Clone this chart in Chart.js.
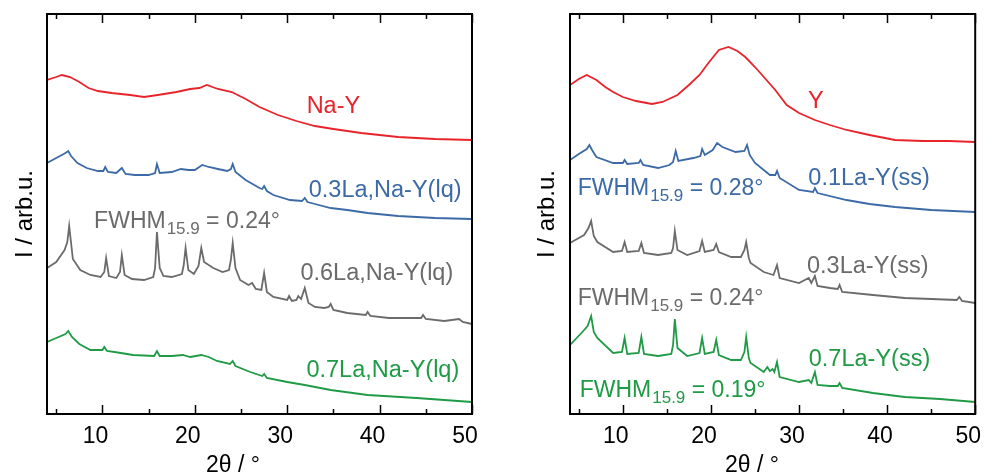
<!DOCTYPE html>
<html>
<head>
<meta charset="utf-8">
<script src="https://cdn.jsdelivr.net/npm/chart.js@4.4.1/dist/chart.umd.min.js"></script>
<style>
  html, body { margin: 0; padding: 0; background: #fff; overflow: hidden; }
  .panel { position: absolute; top: 0; height: 473px; }
  #leftWrap  { left: 0;     width: 500px; }
  #rightWrap { left: 500px; width: 497px; }
</style>
</head>
<body>
<div id="leftWrap" class="panel"><canvas id="leftChart" width="500" height="473"></canvas></div>
<div id="rightWrap" class="panel"><canvas id="rightChart" width="497" height="473"></canvas></div>
<script>
// ─── Data (2θ in °, intensity in arb. u., curves stacked with offsets) ───────
const xTicks     = [10, 20, 30, 40, 50];
const minorTicks = [5, 15, 25, 35, 45];

// left panel: liquid-state exchange
const naY = [[4,334],[5,337],[5.6,339],[6.5,337],[7.5,332],[8.5,326],[9.5,323],[11,321],[13,319],[14.5,317],[16,319],[18,322],[19.5,325],[20.5,326],[21.3,329],[22.5,325],[24,322],[25.5,315],[27,307],[29,299],[31,293],[33,288],[35,285],[38,281],[42,277],[46,275],[50,274]];
const la03lq = [[4,251],[5,256],[6,261],[6.3,263],[6.6,258],[7.3,251],[8.3,246],[9.5,243],[10.1,243],[10.3,247],[10.6,242],[11.5,241],[12.1,246],[12.5,240],[13.5,239],[15,239],[15.7,241],[15.9,250],[16.2,241],[17.5,242],[18.5,245],[19.3,244],[20,244],[20.8,249],[21.5,247],[22.5,245],[23.5,243],[23.9,245],[24.1,250],[24.4,242],[25.5,234],[27,226],[27.3,225],[27.5,228],[27.8,223],[28.5,219],[30.3,214],[31.6,213],[31.9,216],[32.2,212],[33,210],[34.7,206],[36.5,204],[38.7,201],[42,198],[46,196],[50,195]];
const la06lq = [[4,146],[5,152],[5.9,164],[6.2,172],[6.4,188],[6.8,155],[7.6,144],[8.7,139],[9.8,137],[10.2,142],[10.4,156],[10.7,138],[11.5,136],[11.9,142],[12.1,159],[12.4,139],[13.2,135],[14.5,134],[15.5,137],[15.7,146],[15.9,182],[16.2,146],[16.6,138],[17.5,137],[18.6,140],[18.8,149],[19,166],[19.3,144],[19.9,140],[20.4,148],[20.7,166],[21,152],[22,146],[23,142],[23.7,144],[23.9,154],[24.1,171],[24.4,146],[24.9,134],[25.8,129],[26.2,131],[26.6,125],[27.2,124],[27.5,141],[27.8,122],[28.5,117],[30,114],[30.2,118],[30.5,113],[31,114],[31.2,118],[31.5,115],[31.9,126],[32.3,111],[33,107],[34,106],[34.5,107],[34.7,110],[35,104],[36.5,101],[38.5,99],[38.7,102],[39,98],[41,96],[44.5,96],[44.7,99],[45,95],[47,93],[48.6,95],[49,92],[50,90]];
const la07lq = [[4,72],[5,76],[6,80],[6.3,83],[6.7,77],[7.5,70],[8.7,64],[10,64],[10.2,67],[10.5,63],[12,61],[13.3,59],[15.6,58],[15.9,63],[16.2,58],[17.5,58],[18.7,59],[19.5,57],[20.7,59],[21.5,57],[22.4,53],[23.8,50],[24.1,53],[24.4,48],[26,42],[27.3,38],[27.5,40],[27.8,36],[30,32],[31.9,29],[34.7,24],[38.7,19],[44,16],[50,12]];

// right panel: solid-state exchange
const hY = [[4,329],[5,335],[5.9,339],[7,334],[8,327],[8.9,322],[10,317],[11.5,313],[13.3,310],[14.5,312],[16.2,319],[17.5,329],[18.7,339],[19.8,352],[20.9,364],[22,367],[23,363],[23.9,357],[25,347],[26,337],[27.3,324],[28.6,309],[30,301],[31.8,294],[33.5,289],[35.4,284],[38,279],[40.9,274],[44,273],[47,273],[50,272]];
const la01ss = [[4,254],[5,260],[5.9,265],[6.2,269],[6.5,264],[7,257],[8.9,251],[10,251],[10.2,254],[10.5,250],[11.8,251],[12,254],[12.3,249],[14,246],[15.3,249],[15.7,252],[16,263],[16.3,253],[18,256],[18.8,258],[19,265],[19.3,259],[20.2,264],[20.7,271],[21.3,267],[22.8,262],[23.8,263],[24.1,269],[24.4,259],[25,251],[26.7,239],[27.3,239],[27.5,243],[27.8,236],[30,224],[31.6,222],[31.8,226],[32.1,221],[35.4,214],[38,210],[40.9,207],[45,204],[50,202]];
const la03ss = [[4,171],[5,176],[5.6,179],[6.1,186],[6.4,193],[6.7,178],[7.1,172],[8.9,162],[9.9,163],[10.2,172],[10.5,162],[11.8,163],[12.1,171],[12.4,161],[14,159],[15.5,161],[15.7,166],[15.9,183],[16.2,164],[17.3,159],[18.7,163],[19,173],[19.3,162],[20.3,164],[20.6,170],[20.9,162],[22.3,157],[23.4,157],[23.8,164],[24,172],[24.3,156],[24.5,151],[26,142],[27.1,139],[27.5,149],[27.8,136],[30,131],[31.1,136],[31.4,131],[31.8,138],[32.1,128],[33.5,126],[34.4,125],[34.6,129],[34.9,122],[38.4,119],[42,116],[45,115],[47.9,114],[48.2,117],[48.5,113],[50,111]];
const la07ss = [[4,69],[5.3,81],[6,88],[6.4,98],[6.7,82],[7.1,76],[8.9,61],[9.9,62],[10.2,76],[10.5,60],[11.8,61],[12.1,77],[12.4,60],[14,58],[15.5,60],[15.7,69],[15.9,95],[16.2,66],[17.3,58],[18.7,61],[19,76],[19.3,60],[20.3,62],[20.6,74],[20.9,59],[22.3,54],[23.4,54],[23.8,62],[24,77],[24.3,56],[24.5,51],[26,42],[26.4,47],[26.7,43],[27,45],[27.2,42],[27.5,52],[27.8,37],[30,32],[31.1,34],[31.4,31],[31.8,42],[32.1,29],[33.5,28],[34.4,28],[34.6,31],[34.9,26],[38.4,21],[42,17],[46,15],[50,12]];

const RED = '#e8242b', BLUE = '#3b6aa6', GREY = '#6b6b6b', GREEN = '#1f9a45';
const FONT = '"Liberation Sans", Arial, sans-serif';

// ─── Helpers ─────────────────────────────────────────────────────────────────
function line(data, color) {
  return {
    data: data.map(([x, y]) => ({ x, y })),
    borderColor: color, borderWidth: 1.8,
    pointRadius: 0, tension: 0, fill: false
  };
}

function drawFwhm(ctx, x, y, value, color) {
  ctx.fillStyle = color;
  ctx.textAlign = 'left';
  ctx.font = `23px ${FONT}`;
  ctx.fillText('FWHM', x, y);
  let w = ctx.measureText('FWHM').width;
  ctx.font = `17px ${FONT}`;
  ctx.fillText('15.9', x + w + 1, y + 6);
  w += ctx.measureText('15.9').width + 1;
  ctx.font = `23px ${FONT}`;
  ctx.fillText(' = ' + value, x + w, y);
}

// frame, inward ticks on top and bottom, annotations, axis titles
const decorPlugin = {
  id: 'decor',
  afterDraw(chart) {
    const { ctx, chartArea: { left, right, top, bottom }, scales: { x, y } } = chart;
    const o = chart.options.plugins.decor;
    ctx.save();
    ctx.strokeStyle = '#000';
    ctx.lineWidth = 2;
    ctx.strokeRect(left, top, right - left, bottom - top);
    ctx.lineWidth = 1.5;
    ctx.beginPath();
    const tick = (v, len) => {
      const px = Math.round(x.getPixelForValue(v)) + 0.5;
      ctx.moveTo(px, bottom); ctx.lineTo(px, bottom - len);
      ctx.moveTo(px, top);    ctx.lineTo(px, top + len);
    };
    xTicks.forEach(v => tick(v, 9));
    minorTicks.forEach(v => tick(v, 5));
    ctx.stroke();

    ctx.textBaseline = 'alphabetic';
    o.labels.forEach(l => {
      ctx.fillStyle = l.color;
      ctx.textAlign = 'center';
      ctx.font = `23.5px ${FONT}`;
      ctx.fillText(l.text, x.getPixelForValue(l.x), y.getPixelForValue(l.y));
    });
    o.fwhm.forEach(f => drawFwhm(ctx, x.getPixelForValue(f.x), y.getPixelForValue(f.y), f.value, f.color));

    ctx.fillStyle = '#000';
    ctx.font = `23px ${FONT}`;
    ctx.textAlign = 'center';
    ctx.fillText('2θ / °', o.xTitleX, 472);
    ctx.font = `24px ${FONT}`;
    ctx.translate(o.yTitleX, 214);
    ctx.rotate(-Math.PI / 2);
    ctx.fillText('I / arb.u.', 0, 0);
    ctx.restore();
  }
};

function makePanel(id, datasets, decor, yWidth, padRight) {
  return new Chart(document.getElementById(id), {
    type: 'line',
    data: { datasets },
    options: {
      responsive: false, animation: false,
      layout: { padding: { top: 14, right: padRight, left: 0, bottom: 0 } },
      plugins: { legend: { display: false }, tooltip: { enabled: false }, decor },
      scales: {
        x: {
          type: 'linear', min: 4, max: 50,
          grid: { display: false, drawTicks: false },
          border: { display: false },
          afterBuildTicks: s => { s.ticks = xTicks.map(v => ({ value: v })); },
          afterFit: s => { s.height = 59; },
          ticks: { color: '#000', font: { family: FONT, size: 23 }, padding: 9, labelOffset: -7, maxRotation: 0 }
        },
        y: {
          min: 0, max: 400,
          grid: { display: false, drawTicks: false },
          border: { display: false },
          ticks: { display: false },
          afterFit: s => { s.width = yWidth; }
        }
      }
    },
    plugins: [decorPlugin]
  });
}

// ─── Left panel ──────────────────────────────────────────────────────────────
makePanel('leftChart',
  [line(naY, RED), line(la03lq, BLUE), line(la06lq, GREY), line(la07lq, GREEN)],
  {
    labels: [
      { text: 'Na-Y',           x: 35.0, y: 301, color: RED },
      { text: '0.3La,Na-Y(lq)', x: 40.6, y: 217, color: BLUE },
      { text: '0.6La,Na-Y(lq)', x: 39.7, y: 134, color: GREY },
      { text: '0.7La,Na-Y(lq)', x: 40.35, y: 37, color: GREEN }
    ],
    fwhm: [ { x: 9.1, y: 186, value: '0.24°', color: GREY } ],
    xTitleX: 233, yTitleX: 32
  }, 47, 28);

// ─── Right panel ─────────────────────────────────────────────────────────────
makePanel('rightChart',
  [line(hY, RED), line(la01ss, BLUE), line(la03ss, GREY), line(la07ss, GREEN)],
  {
    labels: [
      { text: 'Y',           x: 31.9, y: 306, color: RED },
      { text: '0.1La-Y(ss)', x: 37.95, y: 229, color: BLUE },
      { text: '0.3La-Y(ss)', x: 37.8, y: 141, color: GREY },
      { text: '0.7La-Y(ss)', x: 38.0, y: 48, color: GREEN }
    ],
    fwhm: [
      { x: 4.87, y: 219, value: '0.28°', color: BLUE },
      { x: 4.87, y: 109, value: '0.24°', color: GREY },
      { x: 5.1,  y: 17,  value: '0.19°', color: GREEN }
    ],
    xTitleX: 252, yTitleX: 54
  }, 70, 6);
</script>
</body>
</html>
